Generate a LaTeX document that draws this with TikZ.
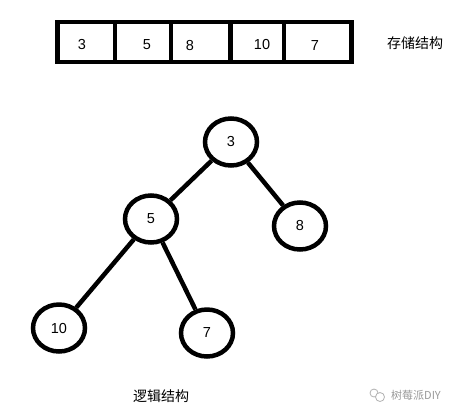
\documentclass[tikz,border=0pt]{standalone}
\usepackage{fontspec}
\setmainfont{Liberation Sans}
\newfontfamily\cjk{Noto Sans CJK SC}
\usetikzlibrary{shapes.geometric}
\begin{document}
\begin{tikzpicture}[x=1pt,y=-1pt,
  cell/.style={draw,line width=4.5pt,rectangle,minimum height=40pt,inner sep=0pt,anchor=west},
  num/.style={font=\fontsize{14.5}{16}\selectfont,inner sep=0pt},
  tnode/.style={draw,line width=4.5pt,ellipse,minimum width=52pt,minimum height=47pt,inner sep=0pt,font=\fontsize{14.5}{16}\selectfont},
  edge/.style={line width=4.5pt},
  lbl/.style={font=\cjk\fontsize{14}{16}\selectfont,inner sep=0pt},
  wmicon/.style={draw=gray!60,line width=0.8pt}]
\useasboundingbox (0,0) rectangle (457,416);
\fill[white] (0,0) rectangle (457,416);
% array cells
\node[cell,minimum width=57.5pt] (c1) at (55,42) {};
\node[cell,minimum width=56pt] (c2) at (112.5,42) {};
\node[cell,minimum width=59.5pt] (c3) at (168.5,42) {};
\node[cell,minimum width=53.5pt] (c4) at (228,42) {};
\node[cell,minimum width=67.5pt] (c5) at (281.5,42) {};
\node[num] (t1) at (82,45) {3};
\node[num] (t2) at (147,45) {5};
\node[num] (t3) at (190,46) {8};
\node[num] (t4) at (262,45) {10};
\node[num] (t5) at (315,46) {7};
\node[lbl] (store) at (415,43) {存储结构};
% tree
\node[tnode] (n3) at (231,142) {3};
\node[tnode] (n5) at (151,219) {5};
\node[tnode] (n8) at (300,226) {8};
\node[tnode] (n10) at (59,328) {10};
\node[tnode] (n7) at (207,333) {7};
\draw[edge] (n3) -- (n5);
\draw[edge] (n3) -- (n8);
\draw[edge] (n5) -- (n10);
\draw[edge] (n5) -- (n7);
\node[lbl] (logic) at (161,396) {逻辑结构};
% watermark
\node[wmicon,circle,minimum size=8pt,inner sep=0pt] (ic1) at (374,393) {};
\node[wmicon,circle,minimum size=9pt,inner sep=0pt,fill=white] (ic2) at (380,397) {};
\node[font=\cjk\fontsize{11}{13}\selectfont,text=gray!80,inner sep=0pt] (wm) at (416,395) {树莓派DIY};
\end{tikzpicture}
\end{document}
